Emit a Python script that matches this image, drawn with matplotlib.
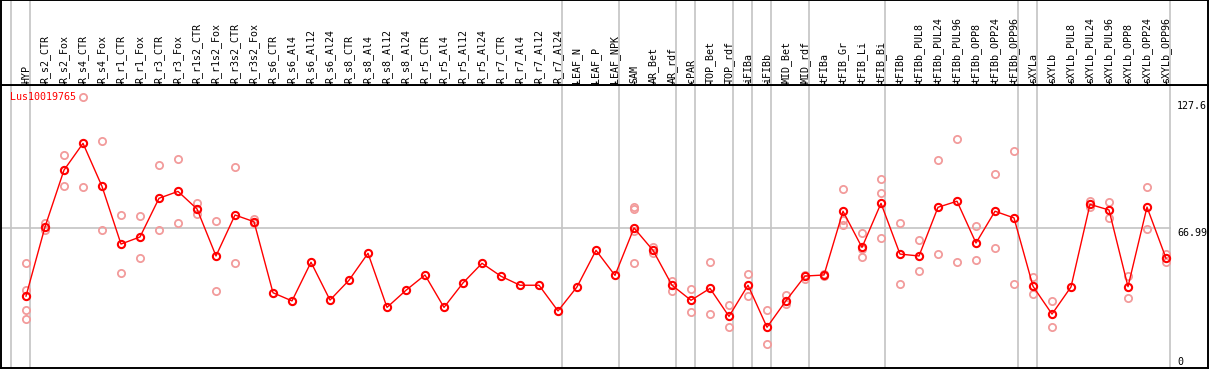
import matplotlib
matplotlib.use("Agg")
import matplotlib.pyplot as plt

# sample labels (header, left to right)
samples = [
    "HYP", "R_s2_CTR", "R_s2_Fox", "R_s4_CTR", "R_s4_Fox", "R_r1_CTR", "R_r1_Fox",
    "R_r3_CTR", "R_r3_Fox", "R_r1s2_CTR", "R_r1s2_Fox", "R_r3s2_CTR", "R_r3s2_Fox",
    "R_s6_CTR", "R_s6_Al4", "R_s6_Al12", "R_s6_Al24", "R_s8_CTR", "R_s8_Al4",
    "R_s8_Al12", "R_s8_Al24", "R_r5_CTR", "R_r5_Al4", "R_r5_Al12", "R_r5_Al24",
    "R_r7_CTR", "R_r7_Al4", "R_r7_Al12", "R_r7_Al24", "LEAF_N", "LEAF_P", "LEAF_NPK",
    "SAM", "AR_Bet", "AR_rdf", "cPAR", "TOP_Bet", "TOP_rdf", "iFIBa", "iFIBb",
    "MID_Bet", "MID_rdf", "tFIBa", "tFIB_Gr", "tFIB_Li", "tFIB_Bi", "tFIBb",
    "tFIBb_PUL8", "tFIBb_PUL24", "tFIBb_PUL96", "tFIBb_OPP8", "tFIBb_OPP24",
    "tFIBb_OPP96", "sXYLa", "sXYLb", "sXYLb_PUL8", "sXYLb_PUL24", "sXYLb_PUL96",
    "sXYLb_OPP8", "sXYLb_OPP24", "sXYLb_OPP96",
]

# mean expression per sample
means = [
    34.4, 67.5, 94.7, 107.5, 86.9, 59.3, 62.7, 81.2, 84.5, 76.1, 53.6, 73.2, 70.0,
    36.0, 32.1, 50.6, 32.5, 42.0, 54.9, 29.0, 37.2, 44.5, 29.0, 40.7, 50.1,
    43.9, 39.6, 39.6, 27.3, 38.8, 56.3, 44.3,
    67.0, 56.3, 39.6, 32.4, 38.1, 24.7, 39.6, 19.5, 32.2, 44.0, 44.5, 75.0, 57.7, 78.8,
    54.5, 53.6, 76.9, 79.8, 59.8, 75.0, 71.8, 39.1, 25.8, 38.8, 78.3, 75.6, 38.9, 77.0, 52.5,
]

# individual replicates per sample
replicates = [
    [50.2, 37.2, 27.6, 23.3], [69.5, 66.0], [101.9, 87.1], [129.5, 86.5], [108.6, 66.0],
    [73.1, 45.5], [72.7, 52.5], [97.0, 66.0], [99.8, 69.2], [78.8, 73.5], [70.3, 36.8],
    [96.0, 50.2], [71.4, 69.5],
    [], [], [], [], [], [], [], [], [], [], [], [], [], [], [], [], [], [], [],
    [77.2, 75.9, 65.4, 50.4], [58.0, 54.9], [41.6, 36.8], [37.6, 26.6], [50.6, 25.7],
    [30.1, 19.5], [45.0, 34.4], [27.8, 11.5], [35.1, 30.5], [44.5, 42.7], [44.8, 44.0],
    [85.5, 70.8, 68.6], [64.4, 56.8, 53.0], [90.4, 83.6, 62.1], [69.2, 40.0],
    [61.1, 46.3], [99.5, 54.4], [109.4, 50.6], [67.9, 51.5], [92.7, 57.3], [103.8, 40.0],
    [43.7, 35.3], [32.1, 19.5], [], [79.8, 76.9], [79.3, 71.6], [44.2, 33.3],
    [86.5, 66.7], [54.7, 50.7],
]

# group boundaries: separator drawn after these sample indices
group_ends = [-1, 0, 28, 31, 34, 35, 37, 38, 39, 41, 45, 52, 53, 60]

gene = "Lus10019765"
ref_lines = [127.6, 66.99, 0]

W, H = 1209, 370
fig = plt.figure(figsize=(W / 100, H / 100), dpi=100)
mono = "DejaVu Sans Mono"

xlim = ((1 - 26) / 19.0, (1208 - 26) / 19.0)
y_sep = 85  # header/plot divider (pixels from top)
bot = 368

ax = fig.add_axes([1 / W, (H - bot) / H, 1207 / W, (bot - y_sep) / H])
hdr = fig.add_axes([1 / W, (H - y_sep) / H, 1207 / W, y_sep / H])

x = list(range(len(samples)))
ax.set_xlim(*xlim)
hdr.set_xlim(*xlim)
ax.set_ylim(0, (bot - y_sep) / 2.09)

grid_c = "#c4c4c4"
for g in group_ends:
    ax.axvline(g + 0.23, color=grid_c, lw=1.2, zorder=1)
    hdr.axvline(g + 0.23, color=grid_c, lw=1.2, zorder=1)
ax.plot([xlim[0], group_ends[-1] + 0.23], [ref_lines[1]] * 2, color=grid_c, lw=1.2, zorder=1)

# replicates
for i, reps in enumerate(replicates):
    if reps:
        ax.plot([i] * len(reps), reps, "o", ms=5.2, mfc="none", mec="#f29b9b",
                mew=1.3, zorder=2, clip_on=False)

ax.plot(x, means, "-", color="red", lw=1.0, zorder=3)
ax.plot(x, means, "o", ms=5.2, mfc="none", mec="red", mew=1.5, zorder=4)

ax.text((10 - 1) / 1207, (bot - 97) / (bot - y_sep), gene, transform=ax.transAxes,
        color="red", fontsize=7.2, family=mono, ha="left", va="center")

lab_x = (1177 - 26) / 19.0
ax.text(lab_x, ref_lines[0], "127.6", fontsize=7.2, family=mono, va="top", ha="left")
ax.text(lab_x, ref_lines[1], "66.99", fontsize=7.2, family=mono, va="top", ha="left")
ax.text(lab_x, 0.5, "0", fontsize=7.2, family=mono, va="bottom", ha="left")

ax.set_xticks([])
ax.set_yticks([])
for s in ax.spines.values():
    s.set_linewidth(1.4)
    s.set_color("black")

# header with rotated labels
hdr.set_ylim(0, y_sep)
hdr.set_yticks([])
hdr.set_xticks(x)
hdr.tick_params(axis="x", direction="in", length=3, width=1, labelbottom=False)
for i, name in enumerate(samples):
    hdr.text(i, 2, name, rotation=90, ha="center", va="bottom",
             fontsize=7.2, family=mono)
for s in hdr.spines.values():
    s.set_linewidth(1.4)
    s.set_color("black")

fig.savefig("out.png", dpi=100)
